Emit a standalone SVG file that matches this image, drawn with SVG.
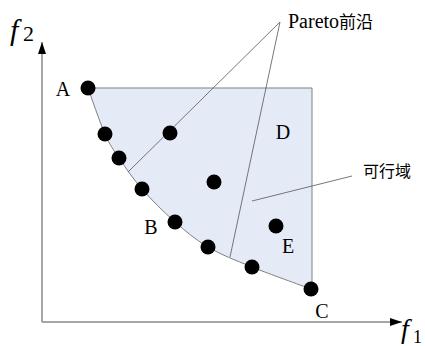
<svg xmlns="http://www.w3.org/2000/svg" width="425" height="346" viewBox="0 0 425 346">
<style>
.lbl{font-family:"Liberation Serif","Times New Roman",serif;font-size:20px;fill:#000}
.cjk{font-family:"Noto Sans CJK SC","Liberation Serif",sans-serif;fill:#000}
.axis{stroke:#8a8a8a;stroke-width:1.5;fill:none}
.ann{stroke:#555;stroke-width:0.8;fill:none}
.dot{fill:#000}
.math{font-family:"Liberation Serif","DejaVu Serif",serif;fill:#000}
</style>
<defs>
<marker id="arr" markerWidth="12" markerHeight="8" refX="12" refY="4" orient="auto" markerUnits="userSpaceOnUse">
<path d="M0,0 L12,4 L0,8 Z" fill="#000"/>
</marker>
</defs>
<g id="region">
<path d="M88,88 L312,88 L312,289 L311,289 C301.2,285.3 269.2,274 252,267 C234.8,260 221,254.7 208,247 C195,239.3 185,230.7 174,221 C163,211.3 151.2,199.5 142,189 C132.8,178.5 125.2,167.2 119,158 C112.8,148.8 110.2,145.7 105,134 C99.8,122.3 90.8,95.7 88,88 Z" fill="#e5ebf6" stroke="#808080" stroke-width="1"/>
</g>
<g id="connectors">
<line class="axis" x1="42" y1="322" x2="42" y2="42" marker-end="url(#arr)"/>
<line class="axis" x1="42" y1="322" x2="402" y2="322" marker-end="url(#arr)"/>
<line class="ann" x1="280" y1="22" x2="128" y2="172"/>
<line class="ann" x1="280" y1="22" x2="230" y2="257"/>
<line class="ann" x1="252" y1="201" x2="352" y2="176"/>
</g>
<g id="points">
<circle class="dot" cx="88" cy="88" r="7.5"/>
<circle class="dot" cx="105" cy="134" r="7.5"/>
<circle class="dot" cx="119" cy="158" r="7.5"/>
<circle class="dot" cx="142" cy="189" r="7.5"/>
<circle class="dot" cx="175" cy="222" r="7.5"/>
<circle class="dot" cx="208" cy="247" r="7.5"/>
<circle class="dot" cx="252" cy="267" r="7.5"/>
<circle class="dot" cx="311" cy="289" r="7.5"/>
<circle class="dot" cx="170" cy="133" r="7.5"/>
<circle class="dot" cx="214" cy="182" r="7.5"/>
<circle class="dot" cx="276" cy="226" r="7.5"/>
</g>
<g id="labels">
<text class="lbl" x="63" y="96" text-anchor="middle">A</text>
<text class="lbl" x="151" y="234" text-anchor="middle">B</text>
<text class="lbl" x="322" y="318" text-anchor="middle">C</text>
<text class="lbl" x="283" y="139" text-anchor="middle">D</text>
<text class="lbl" x="288" y="253" text-anchor="middle">E</text>
<text class="lbl" x="288" y="28">Pareto<tspan class="cjk" font-size="17">前沿</tspan></text>
<text class="cjk" x="363" y="177" font-size="16">可行域</text>
<text class="math" x="10" y="40" font-size="30" font-style="italic">f</text>
<text class="math" x="23" y="41" font-size="22">2</text>
<text class="math" x="401" y="338" font-size="28" font-style="italic">f</text>
<text class="math" x="413" y="343" font-size="18">1</text>
</g>
</svg>
